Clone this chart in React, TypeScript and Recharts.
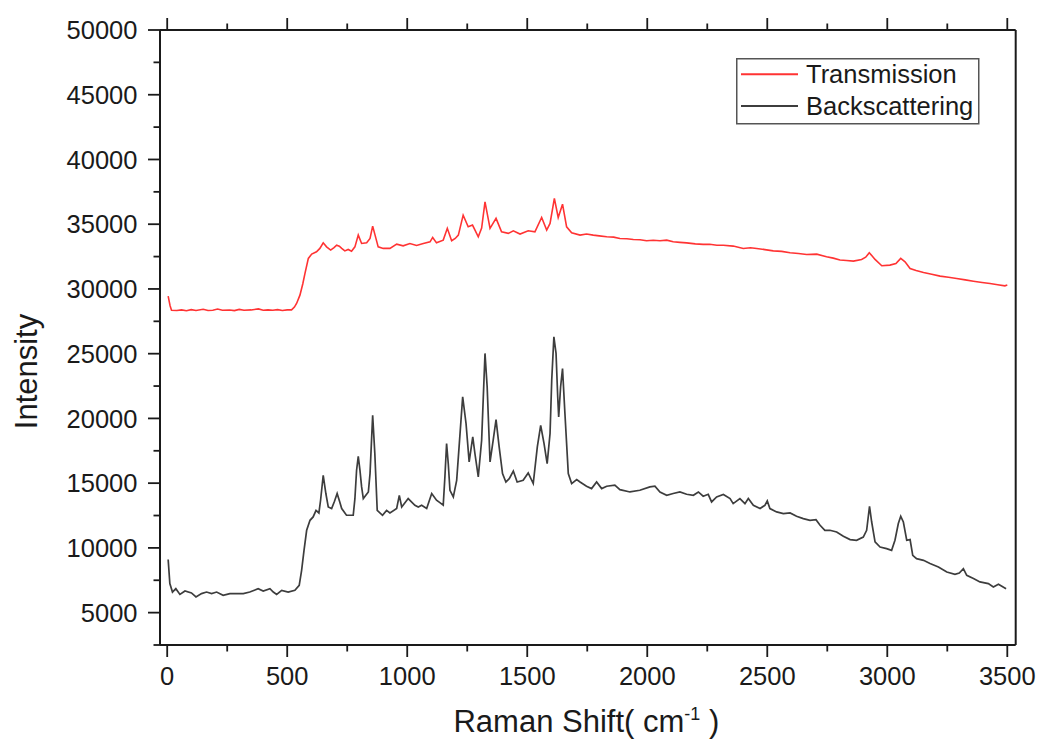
import React from "react";
import { LineChart, Line, XAxis, YAxis, Legend } from "recharts";

// Raman shift (cm-1) and intensity readings for the transmission spectrum
const transShift = [
  4, 12, 18, 40, 60, 80, 100, 120, 150, 170, 190, 210, 230, 260, 280, 300, 320, 350, 380, 400,
  420, 440, 460, 480, 500, 518, 530, 539, 553, 565, 574, 588, 602, 622, 636, 650, 664, 681, 695, 706,
  717, 727, 740, 754, 768, 782, 796, 810, 831, 845, 856, 866, 879, 900, 928, 956, 983, 1011, 1039, 1067,
  1095, 1106, 1122, 1150, 1167, 1185, 1200, 1213, 1233, 1254, 1272, 1296, 1310, 1324, 1345, 1370, 1393, 1421, 1442, 1470,
  1504, 1532, 1560, 1581, 1595, 1613, 1629, 1647, 1664, 1685, 1720, 1747, 1775, 1800, 1831, 1860, 1886, 1915, 1942, 1970,
  1997, 2025, 2053, 2081, 2108, 2136, 2164, 2200, 2233, 2260, 2290, 2317, 2358, 2400, 2430, 2456, 2490, 2525, 2560, 2595,
  2630, 2664, 2706, 2747, 2775, 2803, 2830, 2859, 2893, 2910, 2925, 2937, 2949, 2977, 3011, 3036, 3056, 3074, 3095, 3120,
  3151, 3185, 3220, 3255, 3289, 3325, 3359, 3395, 3428, 3460, 3490, 3500,
];
const transIntensity = [
  29440, 28700, 28360, 28330, 28380, 28320, 28400, 28340, 28430, 28340, 28360, 28450, 28350, 28370, 28330, 28420, 28350, 28380, 28460, 28360,
  28380, 28350, 28400, 28340, 28380, 28380, 28600, 28880, 29520, 30400, 31200, 32360, 32690, 32870, 33130, 33560, 33250, 33000, 33200, 33380,
  33300, 33130, 32940, 33050, 32920, 33250, 34160, 33510, 33560, 33900, 34850, 34160, 33250, 33130, 33130, 33460, 33330, 33510, 33360, 33510,
  33640, 33980, 33560, 33770, 34680, 33720, 33900, 34160, 35700, 34800, 34930, 34030, 34700, 36730, 34680, 35450, 34410, 34290, 34490, 34240,
  34490, 34410, 35520, 34540, 35060, 36990, 35520, 36550, 34800, 34340, 34160, 34240, 34160, 34100, 34030, 34000, 33900, 33880, 33820, 33800,
  33720, 33760, 33720, 33770, 33640, 33600, 33560, 33480, 33440, 33450, 33380, 33380, 33310, 33130, 33180, 33130, 33040, 32940, 32900, 32790,
  32740, 32660, 32690, 32480, 32380, 32230, 32200, 32150, 32280, 32450, 32790, 32550, 32280, 31790, 31840, 31970, 32360, 32100, 31580, 31420,
  31270, 31130, 30990, 30900, 30810, 30700, 30600, 30500, 30420, 30330, 30240, 30300,
];

// Raman shift (cm-1) and intensity readings for the backscattering spectrum
const backShift = [
  4, 11, 22, 36, 53, 74, 101, 120, 143, 164, 185, 206, 233, 261, 289, 317, 344, 379, 400, 428,
  442, 456, 477, 504, 532, 550, 560, 570, 581, 595, 608, 620, 632, 639, 650, 661, 671, 685, 697, 708,
  718, 727, 747, 775, 782, 789, 796, 803, 810, 817, 838, 845, 856, 865, 875, 897, 914, 928, 956, 967,
  977, 1004, 1032, 1046, 1060, 1081, 1102, 1122, 1136, 1150, 1157, 1164, 1171, 1178, 1192, 1206, 1220, 1231, 1245, 1258,
  1273, 1282, 1296, 1310, 1324, 1333, 1345, 1358, 1370, 1383, 1397, 1411, 1425, 1442, 1458, 1483, 1504, 1525, 1542, 1556,
  1570, 1583, 1595, 1602, 1611, 1620, 1627, 1631, 1639, 1647, 1657, 1671, 1685, 1706, 1720, 1747, 1768, 1789, 1810, 1831,
  1865, 1886, 1928, 1969, 2011, 2032, 2053, 2081, 2108, 2136, 2164, 2192, 2213, 2233, 2254, 2268, 2289, 2317, 2345, 2358,
  2386, 2407, 2421, 2442, 2470, 2490, 2500, 2511, 2539, 2567, 2595, 2622, 2650, 2678, 2703, 2720, 2740, 2761, 2789, 2817,
  2845, 2872, 2900, 2914, 2926, 2935, 2949, 2970, 2997, 3018, 3032, 3046, 3056, 3067, 3081, 3095, 3106, 3122, 3151, 3178,
  3213, 3248, 3282, 3300, 3317, 3331, 3359, 3386, 3421, 3442, 3463, 3495,
];
const backIntensity = [
  9100, 7240, 6590, 6850, 6410, 6670, 6520, 6210, 6470, 6590, 6470, 6590, 6340, 6470, 6470, 6470, 6590, 6850, 6670, 6850,
  6590, 6410, 6720, 6590, 6720, 7110, 8270, 9810, 11360, 12130, 12390, 12900, 12700, 13680, 15610, 14200, 13160, 13040, 13600, 14200,
  13600, 13040, 12520, 12520, 13800, 16000, 17080, 16000, 14710, 13810, 14320, 15740, 20250, 17290, 12900, 12520, 12900, 12700, 13040, 14060,
  13160, 13810, 13290, 13160, 13290, 13040, 14200, 13680, 13500, 13300, 15500, 18060, 16500, 14450, 13940, 15220, 18830, 21660, 19610, 16640,
  18570, 17290, 15480, 18310, 25020, 22450, 16640, 18310, 19910, 17800, 15740, 15090, 15350, 15940, 15090, 15220, 15790, 14970, 17800, 19470,
  18060, 16510, 18830, 22950, 26300, 25020, 21660, 20120, 22450, 23850, 20380, 15740, 14970, 15280, 15090, 14760, 14580, 15090, 14580, 14760,
  14840, 14500, 14320, 14450, 14710, 14760, 14320, 14060, 14200, 14320, 14140, 14060, 14320, 13990, 14140, 13550, 13940, 14120, 13810, 13420,
  13810, 13420, 13810, 13290, 13040, 13290, 13630, 13040, 12780, 12650, 12700, 12440, 12260, 12130, 12180, 11750, 11360, 11360, 11230, 10900,
  10640, 10590, 10840, 11360, 13210, 12000, 10460, 10070, 9940, 9810, 10590, 11880, 12440, 12000, 10590, 10640, 9430, 9170, 9040, 8790,
  8530, 8140, 7960, 8060, 8400, 7880, 7630, 7370, 7240, 6980, 7190, 6850,
];

const seriesNames = ["Transmission", "Backscattering"];

// Axis ticks: every 250 cm-1 / 2500 counts, labelled on the major ones
const xTicks = [0, 250, 500, 750, 1000, 1250, 1500, 1750, 2000, 2250, 2500, 2750, 3000, 3250, 3500];
const yTicks = [
  2500, 5000, 7500, 10000, 12500, 15000, 17500, 20000, 22500, 25000,
  27500, 30000, 32500, 35000, 37500, 40000, 42500, 45000, 47500, 50000,
];

const transData = transShift.map((x, i) => ({ shift: x, intensity: transIntensity[i] }));
const backData = backShift.map((x, i) => ({ shift: x, intensity: backIntensity[i] }));

const FONT = "'Liberation Sans', Arial, Helvetica, sans-serif";
const INK = "#1a1a1a";
const TICK_FONT = 25.5;
const MAJOR = 12;
const MINOR = 6.5;

const BottomTick = (props: any) => {
  const { x, y, payload } = props;
  const major = payload.value % 500 === 0;
  return (
    <g>
      <line x1={x} y1={y} x2={x} y2={y + (major ? MAJOR : MINOR)} stroke={INK} strokeWidth={1.8} />
      {major && (
        <text x={x} y={y + 40} textAnchor="middle" fontSize={TICK_FONT} fontFamily={FONT} fill={INK}>
          {payload.value}
        </text>
      )}
    </g>
  );
};

const TopTick = (props: any) => {
  const { x, y, payload } = props;
  const major = payload.value % 500 === 0;
  return <line x1={x} y1={y} x2={x} y2={y - (major ? MAJOR : MINOR)} stroke={INK} strokeWidth={1.8} />;
};

const LeftTick = (props: any) => {
  const { x, y, payload } = props;
  const major = payload.value % 5000 === 0;
  return (
    <g>
      <line x1={x} y1={y} x2={x - (major ? MAJOR : MINOR)} y2={y} stroke={INK} strokeWidth={1.8} />
      {major && (
        <text x={x - 22.5} y={y} dy="0.36em" textAnchor="end" fontSize={TICK_FONT} fontFamily={FONT} fill={INK}>
          {payload.value}
        </text>
      )}
    </g>
  );
};

const XTitle = (props: any) => {
  const { viewBox } = props;
  const cx = viewBox.x + viewBox.width / 2 - 1.5;
  const by = viewBox.y + 87;
  return (
    <text x={cx} y={by} textAnchor="middle" fontSize={31} fontFamily={FONT} fill={INK}>
      <tspan>Raman Shift( cm</tspan>
      <tspan dy={-12} fontSize={18}>-1</tspan>
      <tspan dy={12}> )</tspan>
    </text>
  );
};

const YTitle = (props: any) => {
  const { viewBox } = props;
  const bx = 37;
  const cy = viewBox.y + viewBox.height / 2 + 34;
  return (
    <text
      x={bx}
      y={cy}
      textAnchor="middle"
      fontSize={31}
      fontFamily={FONT}
      fill={INK}
      transform={`rotate(-90, ${bx}, ${cy})`}
    >
      Intensity
    </text>
  );
};

const LegendBox = (props: any) => {
  const payload = [...(props.payload || [])].sort(
    (a: any, b: any) => seriesNames.indexOf(a.value) - seriesNames.indexOf(b.value)
  );
  return (
    <svg width={244} height={67} style={{ display: "block" }}>
      <rect x={0.75} y={0.75} width={242} height={65} fill="#fff" stroke="#555" strokeWidth={1.5} />
      {payload.map((p: any, i: number) => (
        <g key={p.value}>
          <line x1={5} x2={62} y1={16.3 + i * 31.7} y2={16.3 + i * 31.7} stroke={p.color} strokeWidth={2} />
          <text x={70} y={24.8 + i * 32.5} fontSize={TICK_FONT} fontFamily={FONT} fill={INK}>
            {p.value}
          </text>
        </g>
      ))}
    </svg>
  );
};

export default function App() {
  return (
    <div style={{ position: "absolute", left: 0, top: 0, width: 1039, height: 740, background: "#fff", fontFamily: FONT }}>
      <LineChart width={1039} height={740} margin={{ top: 29, right: 22.3, bottom: 94, left: 159 }}>
        <XAxis
          xAxisId="bottom"
          dataKey="shift"
          type="number"
          domain={[-30, 3535]}
          allowDataOverflow
          ticks={xTicks}
          interval={0}
          height={1}
          tickSize={0}
          tickMargin={0}
          tick={<BottomTick />}
          tickLine={false}
          axisLine={{ stroke: INK, strokeWidth: 2 }}
          label={<XTitle />}
        />
        <XAxis
          xAxisId="top"
          orientation="top"
          dataKey="shift"
          type="number"
          domain={[-30, 3535]}
          allowDataOverflow
          ticks={xTicks}
          interval={0}
          height={1}
          tickSize={0}
          tickMargin={0}
          tick={<TopTick />}
          tickLine={false}
          axisLine={{ stroke: INK, strokeWidth: 2 }}
        />
        <YAxis
          yAxisId="left"
          type="number"
          domain={[2500, 50000]}
          allowDataOverflow
          ticks={yTicks}
          interval={0}
          width={1}
          tickSize={0}
          tickMargin={0}
          tick={<LeftTick />}
          tickLine={false}
          axisLine={{ stroke: INK, strokeWidth: 2 }}
          label={<YTitle />}
        />
        <YAxis
          yAxisId="right"
          orientation="right"
          type="number"
          domain={[2500, 50000]}
          allowDataOverflow
          width={1}
          tick={false}
          tickLine={false}
          axisLine={{ stroke: INK, strokeWidth: 2 }}
        />
        <Legend
          content={<LegendBox />}
          layout="horizontal"
          verticalAlign="middle"
          align="center"
          wrapperStyle={{ position: "absolute", left: 736, top: 58, width: 244, height: 67 }}
        />
        <Line
          xAxisId="bottom"
          yAxisId="left"
          data={transData}
          dataKey="intensity"
          name="Transmission"
          type="linear"
          stroke="#ff3333"
          strokeWidth={1.6}
          dot={false}
          isAnimationActive={false}
        />
        <Line
          xAxisId="bottom"
          yAxisId="left"
          data={backData}
          dataKey="intensity"
          name="Backscattering"
          type="linear"
          stroke="#3d3d3d"
          strokeWidth={1.7}
          dot={false}
          isAnimationActive={false}
        />
      </LineChart>
    </div>
  );
}
